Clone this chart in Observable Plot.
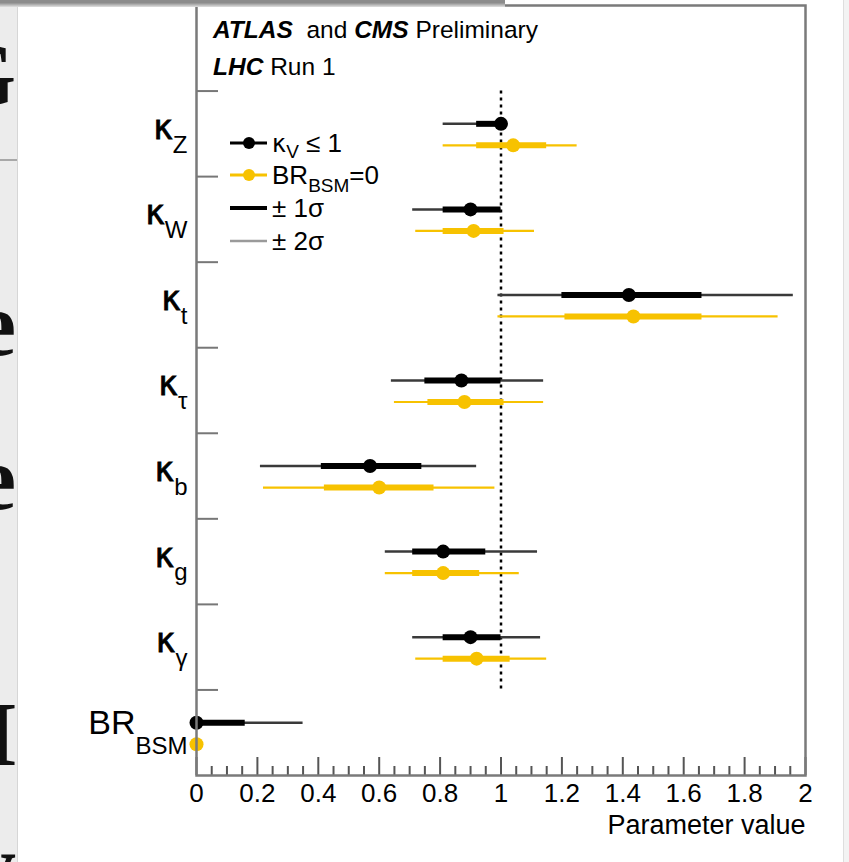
<!DOCTYPE html>
<html>
<head>
<meta charset="utf-8">
<script src="https://cdn.jsdelivr.net/npm/d3@7"></script>
<script src="https://cdn.jsdelivr.net/npm/@observablehq/plot@0.6"></script>
<style>
  html, body { margin: 0; padding: 0; background: #fff; }
  #wrap { position: relative; width: 849px; height: 862px; overflow: hidden; background: #fff; font-family: "Liberation Sans", Arial, Helvetica, sans-serif; }
  #leftstrip { position: absolute; left: 0; top: 0; width: 17px; height: 862px; background: #ececec; border-right: 1px solid #d6d6d6; overflow: hidden; }
  #leftstrip span { position: absolute; right: 1px; font-family: "Liberation Serif", "DejaVu Serif", serif; font-weight: bold; font-size: 92px; line-height: 1; color: #111; }
  #leftstrip .hl { position: absolute; left: 0; width: 17px; height: 2px; background: #a8a8a8; }
  #topbar { position: absolute; left: 0; top: 0; width: 505px; height: 7px; background: linear-gradient(#8c8c8c, #8c8c8c 40%, #e0e0e0); }
  #rightstrip { position: absolute; left: 843px; top: 0; width: 6px; height: 862px; background: #f3f3f3; border-left: 1px solid #dedede; }
  #chart { position: absolute; left: 0; top: 0; }
  #overlay { position: absolute; left: 0; top: 0; pointer-events: none; }
</style>
</head>
<body>
<div id="wrap">
  <div id="leftstrip">
    <span style="top:28px">G</span>
    <div class="hl" style="top:159px"></div>
    <span style="top:278px">e</span>
    <span style="top:432px">re</span>
    <span style="top:688px">H</span>
    <span style="top:820px">y</span>
  </div>
  <div id="rightstrip"></div>
  <div id="chart"></div>
  <svg id="overlay" width="849" height="862"></svg>
  <div id="topbar"></div>
</div>
<script>
// ---------------- data ----------------
const params = ["κ_Z", "κ_W", "κ_t", "κ_τ", "κ_b", "κ_g", "κ_γ", "BR_BSM"];

// Fit with kappa_V <= 1 (black)
const kvCentral = [1.00, 0.90, 1.42, 0.87, 0.57, 0.81, 0.90, 0.00];
const kvLo1     = [0.92, 0.81, 1.20, 0.75, 0.41, 0.71, 0.81, 0.00];
const kvHi1     = [1.00, 1.00, 1.66, 1.00, 0.74, 0.95, 1.00, 0.16];
const kvLo2     = [0.81, 0.71, 0.99, 0.64, 0.21, 0.62, 0.71, 0.00];
const kvHi2     = [1.00, 1.00, 1.96, 1.14, 0.92, 1.12, 1.13, 0.35];

// Fit with BR_BSM = 0 (yellow)
const brCentral = [1.04, 0.91, 1.435, 0.88, 0.60, 0.81, 0.92, 0.00];
const brLo1     = [0.92, 0.81, 1.21, 0.76, 0.42, 0.71, 0.81, null];
const brHi1     = [1.15, 1.01, 1.66, 1.01, 0.78, 0.93, 1.03, null];
const brLo2     = [0.81, 0.72, 0.99, 0.65, 0.22, 0.62, 0.72, null];
const brHi2     = [1.25, 1.11, 1.91, 1.14, 0.98, 1.06, 1.15, null];

const xTickValues = [0, 0.2, 0.4, 0.6, 0.8, 1, 1.2, 1.4, 1.6, 1.8, 2];
const legendLabels = ["κ_V ≤ 1", "BR_BSM=0", "± 1σ", "± 2σ"];
const titleLine1 = [["ATLAS", true], ["  and ", false], ["CMS", true], [" Preliminary", false]];
const titleLine2 = [["LHC", true], [" Run 1", false]];

// ---------------- build ----------------
const BLACK = "#000000", BLACK_THIN = "#3a3a3a", YELLOW = "#f7c200";
const GREEK_FONT = "'DejaVu Sans', 'Liberation Sans', sans-serif";

const kvRows = params.map((p, i) => ({p, row: i + 1.5, c: kvCentral[i], lo1: kvLo1[i], hi1: kvHi1[i], lo2: kvLo2[i], hi2: kvHi2[i]}));
const brRows = params.map((p, i) => ({p, row: i + 1.5, c: brCentral[i], lo1: brLo1[i], hi1: brHi1[i], lo2: brLo2[i], hi2: brHi2[i]}));
const brBars = brRows.filter(d => d.lo1 != null);

const minorX = d3.range(0, 41).map(k => k * 0.05).filter(v => Math.abs(v * 5 - Math.round(v * 5)) > 1e-6);
const rowBounds = d3.range(1, params.length + 1);

const W = 849, H = 862, mL = 196, mR = 44, mT = 5, mB = 87;
const plotW = W - mL - mR, plotH = H - mT - mB;
const dyK = -10, dyB = 11.5;

const chart = Plot.plot({
  width: W, height: H,
  marginLeft: mL, marginRight: mR, marginTop: mT, marginBottom: mB,
  style: {background: "transparent", fontFamily: "'Liberation Sans', Arial, Helvetica, sans-serif", color: "#000"},
  x: {domain: [0, 2]},
  y: {domain: [0, params.length + 1], reverse: true},
  marks: [
    Plot.ruleX([1], {y1: 1, y2: params.length, stroke: "#000", strokeWidth: 2.5, strokeDasharray: "3,4"}),
    // black series
    Plot.ruleY(kvRows, {y: "row", x1: "lo2", x2: "hi2", stroke: BLACK_THIN, strokeWidth: 2.5, dy: dyK}),
    Plot.ruleY(kvRows, {y: "row", x1: "lo1", x2: "hi1", stroke: BLACK, strokeWidth: 6, dy: dyK}),
    Plot.dot(kvRows, {x: "c", y: "row", r: 7, fill: BLACK, stroke: "none", dy: dyK}),
    // yellow series
    Plot.ruleY(brBars, {y: "row", x1: "lo2", x2: "hi2", stroke: YELLOW, strokeWidth: 2.2, dy: dyB}),
    Plot.ruleY(brBars, {y: "row", x1: "lo1", x2: "hi1", stroke: YELLOW, strokeWidth: 6, dy: dyB}),
    Plot.dot(brRows, {x: "c", y: "row", r: 7, fill: YELLOW, stroke: "none", dy: dyB}),
    // ticks (inward, ROOT style)
    Plot.tickX(xTickValues, {x: d => d, stroke: "#555", strokeWidth: 2, insetTop: plotH - 18}),
    Plot.tickX(minorX, {x: d => d, stroke: "#555", strokeWidth: 2, insetTop: plotH - 9}),
    Plot.tickY(rowBounds, {y: d => d, stroke: "#777", strokeWidth: 2, insetRight: plotW - 22}),
    Plot.frame({stroke: "#7a7a7a", strokeWidth: 2.5}),
    // axes
    Plot.axisX(xTickValues, {tickSize: 0, tickPadding: 8, fontSize: 26, label: null,
      tickFormat: d => String(+(+d).toFixed(1))}),
    Plot.axisY(params.map((_, i) => i + 1.5), {tickSize: 0, tickPadding: 9, fontSize: 34, label: null, dy: -6,
      tickFormat: d => params[Math.round(d - 1.5)]}),
    Plot.text(["Parameter value"], {text: d => d, frameAnchor: "bottom-right", textAnchor: "end", dy: 58, fontSize: 27, fill: "#000"})
  ]
});
document.getElementById("chart").appendChild(chart);

const NS = "http://www.w3.org/2000/svg";
// subscripts for y tick labels
chart.querySelectorAll('g[aria-label="y-axis tick label"] text').forEach(t => {
  const s = t.textContent;
  const parts = s.split("_");
  if (parts.length < 2) return;
  t.textContent = "";
  const isBR = parts[0] === "BR";
  const a = document.createElementNS(NS, "tspan");
  a.textContent = parts[0];
  if (isBR) { a.setAttribute("dy", "-4"); a.setAttribute("font-size", "34"); }
  else { a.setAttribute("font-family", GREEK_FONT); a.setAttribute("font-size", "33"); a.setAttribute("stroke", "#000"); a.setAttribute("stroke-width", "0.8"); }
  const b = document.createElementNS(NS, "tspan");
  b.textContent = parts[1];
  b.setAttribute("font-size", "24");
  b.setAttribute("stroke", "none");
  b.setAttribute("dy", isBR ? "20" : "14");
  t.appendChild(a); t.appendChild(b);
});

// ---------------- overlay: title & legend ----------------
const ov = d3.select("#overlay");
const font = "'Liberation Sans', Arial, Helvetica, sans-serif";
function titleLine(parts, x, y, size) {
  const t = ov.append("text").attr("x", x).attr("y", y).attr("font-family", font).attr("font-size", size)
    .attr("fill", "#000").attr("xml:space", "preserve").style("white-space", "pre");
  parts.forEach(([s, bold]) => {
    t.append("tspan").text(s).attr("font-weight", bold ? "bold" : "normal").attr("font-style", bold ? "italic" : "normal");
  });
}
titleLine(titleLine1, 213, 38, 24.5);
titleLine(titleLine2, 213, 75, 24.5);

const legY = [143, 175, 208, 241];
const legStyles = [
  {stroke: "#000", sw: 3, dot: "#000"},
  {stroke: YELLOW, sw: 3, dot: YELLOW},
  {stroke: "#000", sw: 4, dot: null},
  {stroke: "#9a9a9a", sw: 2.5, dot: null}
];
legendLabels.forEach((lab, i) => {
  const y = legY[i], st = legStyles[i];
  ov.append("line").attr("x1", 230).attr("x2", 267).attr("y1", y).attr("y2", y)
    .attr("stroke", st.stroke).attr("stroke-width", st.sw);
  if (st.dot) ov.append("circle").attr("cx", 249).attr("cy", y).attr("r", 6).attr("fill", st.dot);
  const t = ov.append("text").attr("x", 272).attr("y", y + 9).attr("font-family", font)
    .attr("font-size", 26).attr("fill", "#000").style("white-space", "pre");
  const m = lab.match(/^([^_]*)_([A-Z]+)(.*)$/);
  if (m) {
    const isK = m[1] === "κ";
    const first = t.append("tspan").text(m[1]);
    if (isK) first.attr("font-family", GREEK_FONT).attr("font-size", 24);
    t.append("tspan").text(m[2]).attr("font-size", 19).attr("dy", isK ? 6 : 8);
    t.append("tspan").text(m[3]).attr("dy", isK ? -6 : -8);
  } else {
    t.text(lab);
  }
});
</script>
</body>
</html>
